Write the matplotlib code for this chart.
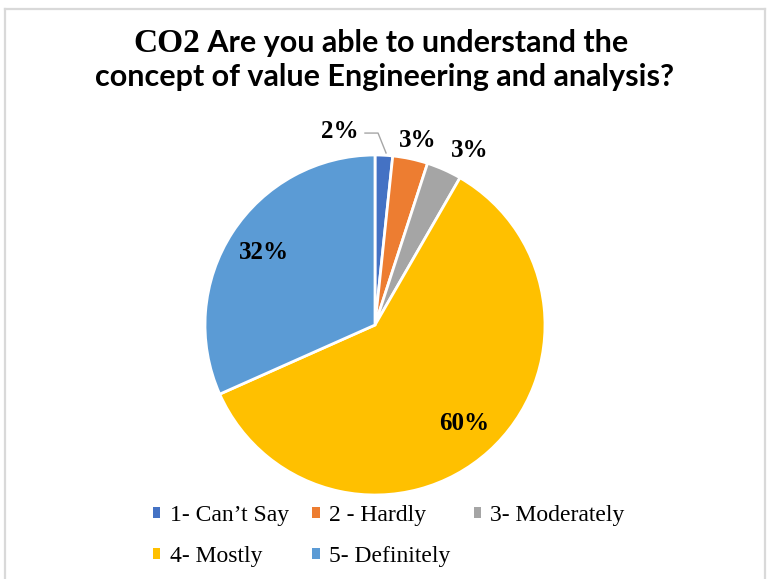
import matplotlib
matplotlib.use("Agg")
import matplotlib.pyplot as plt
from matplotlib.patches import Patch
from matplotlib.lines import Line2D

# ---- data ----
categories = ["1- Can\u2019t Say", "2 - Hardly", "3- Moderately", "4- Mostly", "5- Definitely"]
counts = [1, 2, 2, 36, 19]
colors = ["#4472C4", "#ED7D31", "#A5A5A5", "#FFC000", "#5B9BD5"]
title_serif = "CO2"
title_line1 = " Are you able to understand the"
title_line2 = "concept of value Engineering and analysis?"

W, H = 771, 579
fig = plt.figure(figsize=(W / 100, H / 100), dpi=100)
fig.patch.set_facecolor("white")

# outer light border (top, left, right)
bc = "#D9D9D9"
fig.add_artist(Line2D([5 / W, 5 / W], [0, 1 - 9 / H], transform=fig.transFigure, color=bc, lw=1.6))
fig.add_artist(Line2D([5 / W, 765 / W], [1 - 9 / H, 1 - 9 / H], transform=fig.transFigure, color=bc, lw=1.6))
fig.add_artist(Line2D([765 / W, 765 / W], [0, 1 - 9 / H], transform=fig.transFigure, color=bc, lw=1.6))

# ---- pie ----
cx, cy, r = 375, 325, 170
ax = fig.add_axes([(cx - r) / W, (H - cy - r) / H, 2 * r / W, 2 * r / H])
wedges, texts, autotexts = ax.pie(
    counts, colors=colors, startangle=90, counterclock=False,
    wedgeprops=dict(edgecolor="white", linewidth=2, clip_on=False),
    autopct=lambda p: f"{round(p)}%", pctdistance=0.78,
    textprops=dict(family="Liberation Serif", fontweight="bold", fontsize=18, color="black"),
)
ax.set_xlim(-1, 1)
ax.set_ylim(-1, 1)
ax.set_aspect("equal")
ax.axis("off")

# outside labels for the thin slices
outside = {0: (-0.206, 1.141), 1: (0.253, 1.088), 2: (0.559, 1.024)}
for i, pos in outside.items():
    autotexts[i].set_position(pos)
    autotexts[i].set_clip_on(False)
# leader line for the smallest slice
ax.plot([-0.059, 0.018, 0.065], [1.129, 1.129, 1.012], color="#A6A6A6", lw=1, clip_on=False)

# ---- title ----
fig.canvas.draw()
rend = fig.canvas.get_renderer()
target_w = 578
fs = 22
t2 = fig.text(0.5, 0, title_line2, family="Lato", fontweight="bold", fontsize=fs, ha="center", va="baseline")
w2 = t2.get_window_extent(rend).width
fs = fs * target_w / w2
t2.set_fontsize(fs)
t2.set_position((385 / W, 1 - 86 / H))

ta = fig.text(0, 1 - 52 / H, title_serif, family="Liberation Serif", fontweight="bold", fontsize=fs * 1.1, ha="left", va="baseline")
tb = fig.text(0, 1 - 52 / H, title_line1, family="Lato", fontweight="bold", fontsize=fs, ha="left", va="baseline")
wa = ta.get_window_extent(rend).width
wb = tb.get_window_extent(rend).width
x0 = 380.5 - (wa + wb) / 2
ta.set_x(x0 / W)
tb.set_x((x0 + wa) / W)

# ---- legend (row-major order) ----
handles = [Patch(facecolor=c, edgecolor="none") for c in colors]
order = [0, 3, 1, 4, 2]
leg = fig.legend(
    [handles[i] for i in order], [categories[i] for i in order],
    ncol=3, loc="center", bbox_to_anchor=(389 / W, 1 - 536 / H),
    frameon=False, prop=dict(family="Liberation Serif", size=17),
    handlelength=0.3, handleheight=0.3, handletextpad=0.4,
    columnspacing=1.0, labelspacing=0.85, borderpad=0, borderaxespad=0,
)
for t in leg.get_texts():
    t.set_color("black")

fig.savefig("out.png", dpi=100, facecolor="white")
